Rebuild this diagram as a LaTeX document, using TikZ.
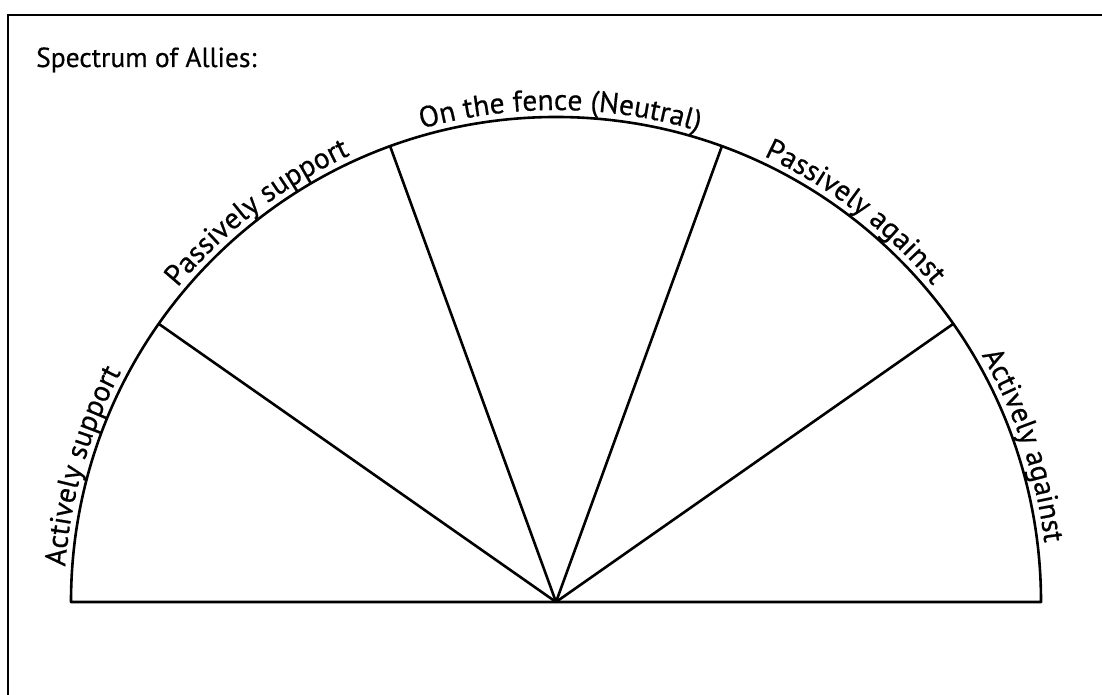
\documentclass[tikz,border=0pt]{standalone}
\usepackage{fontspec}
\setmainfont{PT Sans}
\setsansfont{PT Sans}
\newfontfamily\diagfont{PT Sans}[FakeBold=0.5]
\usetikzlibrary{decorations.text}
\newcommand\lblfont{\diagfont\fontsize{29.5}{34}\selectfont}
\newcommand\ttlfont{\diagfont\fontsize{27.5}{32}\selectfont}
\begin{document}
\begin{tikzpicture}[x=1pt,y=1pt,
  edge/.style={line width=2.6pt, line join=round},
  frame/.style={line width=2.8pt},
  arclabel/.style={decorate, decoration={text along path, text align=center, text={|\lblfont|#1}}}]
\useasboundingbox (0,0) rectangle (1102,695);
\fill[white] (0,0) rectangle (1102,695);
% outer frame
\draw[frame] (8,-5) -- (8,680) -- (1107,680);
% title
\node[anchor=base west, inner sep=0pt, font=\ttlfont] (title) at (36,628) {Spectrum of Allies:};
% geometry
\coordinate (O) at (556,93);
\coordinate (L) at (71,93);
\coordinate (R) at (1041,93);
\coordinate (s35) at ([shift={(35:485)}]O);
\coordinate (s70) at ([shift={(70:485)}]O);
\coordinate (s110) at ([shift={(110:485)}]O);
\coordinate (s145) at ([shift={(145:485)}]O);
% half circle
\draw[edge] (R) arc[start angle=0, end angle=180, radius=485] -- cycle;
% spokes
\draw[edge] (O) -- (s145);
\draw[edge] (O) -- (s110);
\draw[edge] (O) -- (s70);
\draw[edge] (O) -- (s35);
% labels along the arc
\path[arclabel={Actively support}] ([shift={(181.5:492)}]O) arc[start angle=181.5, end angle=146.5, radius=492];
\path[arclabel={Passively support}] ([shift={(145:492)}]O) arc[start angle=145, end angle=110, radius=492];
\path[arclabel={On the fence (Neutral)}] ([shift={(109.5:492)}]O) arc[start angle=109.5, end angle=69.5, radius=492];
\path[arclabel={Passively against}] ([shift={(70:492)}]O) arc[start angle=70, end angle=35, radius=492];
\path[arclabel={Actively against}] ([shift={(36:492)}]O) arc[start angle=36, end angle=1, radius=492];
\end{tikzpicture}
\end{document}
